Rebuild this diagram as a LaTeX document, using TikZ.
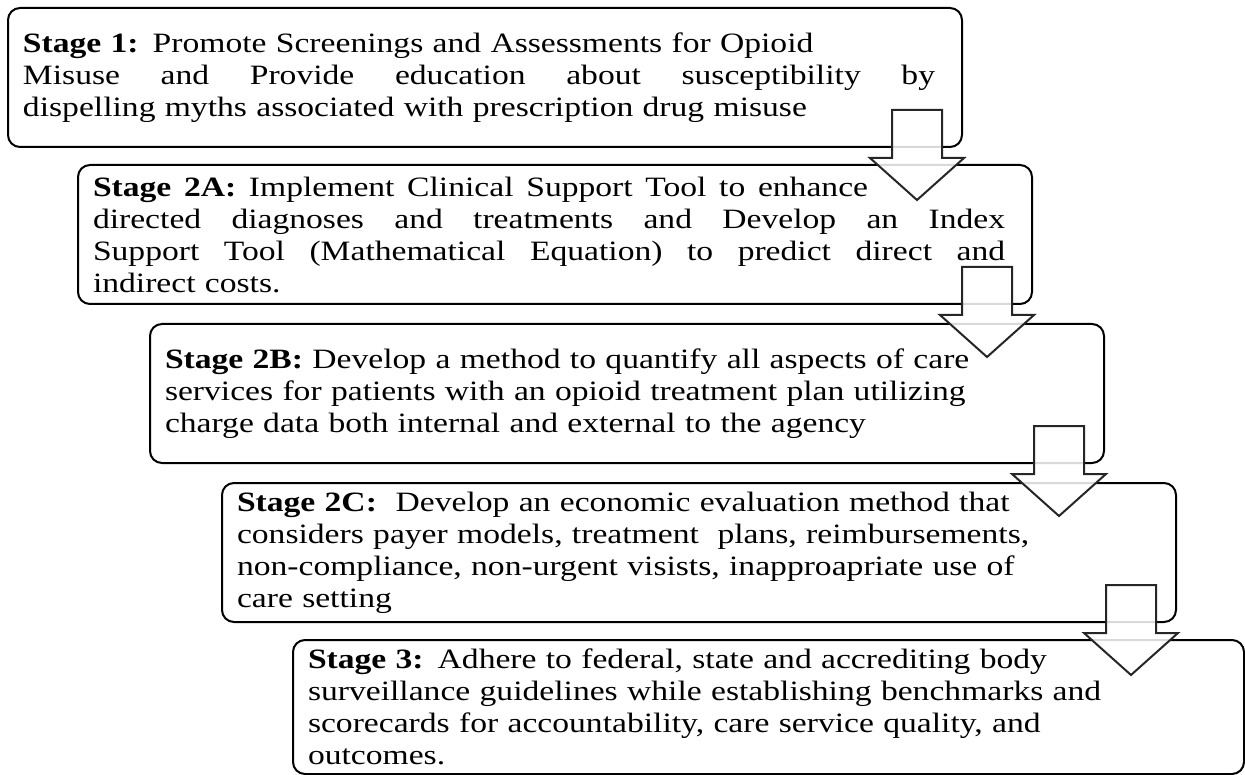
\documentclass[tikz,border=0pt]{standalone}
\usepackage{fontspec}
\setmainfont{Liberation Serif}[FakeStretch=1.2]
\usetikzlibrary{calc}
\newcommand{\fullline}[2]{\makebox[#1][s]{\spaceskip=0pt\xspaceskip=0pt #2}}

\begin{document}
\begin{tikzpicture}[x=1pt, y=-1pt,
  stagebox/.style={draw, line width=2pt, rounded corners=12pt, anchor=north west,
    minimum width=954pt, minimum height=139pt, text width=924pt,
    inner xsep=15pt, inner ysep=0pt, align=left, font=\fontsize{28}{32}\selectfont},
  stagearrow/.style={draw=black!85, line width=2pt, fill=white, fill opacity=0.85, line join=miter}]
\useasboundingbox (0,0) rectangle (1245,775);
\node[stagebox] (s1) at (7,7) {\textbf{Stage 1:} Promote Screenings and Assessments for Opioid\\
  \fullline{912pt}{Misuse and Provide education about susceptibility by}\\
  dispelling myths associated with prescription drug misuse};
\node[stagebox] (s2a) at (77,164) {\fullline{775pt}{\textbf{Stage 2A:} Implement Clinical Support Tool to enhance}\\
  \fullline{912pt}{directed diagnoses and treatments and Develop an Index}\\
  \fullline{912pt}{Support Tool (Mathematical Equation) to predict direct and}\\
  indirect costs.};
\node[stagebox] (s2b) at (149,323) {\textbf{Stage 2B:} Develop a method to quantify all aspects of care\\
  services for patients with an opioid treatment plan utilizing\\
  charge data both internal and external to the agency};
\node[stagebox] (s2c) at (221,482) {\textbf{Stage 2C:}\ \ Develop an economic evaluation method that\\
  considers payer models, treatment\ \ plans, reimbursements,\\
  non-compliance, non-urgent visists, inapproapriate use of\\
  care setting};
\node[stagebox, minimum width=951pt, minimum height=134pt, text width=921pt] (s3) at (292,639) {\textbf{Stage 3:} Adhere to federal, state and accrediting body\\
  surveillance guidelines while establishing benchmarks and\\
  scorecards for accountability, care service quality, and\\
  outcomes.};
\foreach \a in {s1,s2a,s2b,s2c}
  \draw[stagearrow] ($(\a.south east)+(-71,-38)$) -- ++(50,0) -- ++(0,48) -- ++(22,0)
    -- ($(\a.south east)+(-46,52)$) -- ++(-47,-42) -- ++(22,0) -- cycle;
\end{tikzpicture}
\end{document}
